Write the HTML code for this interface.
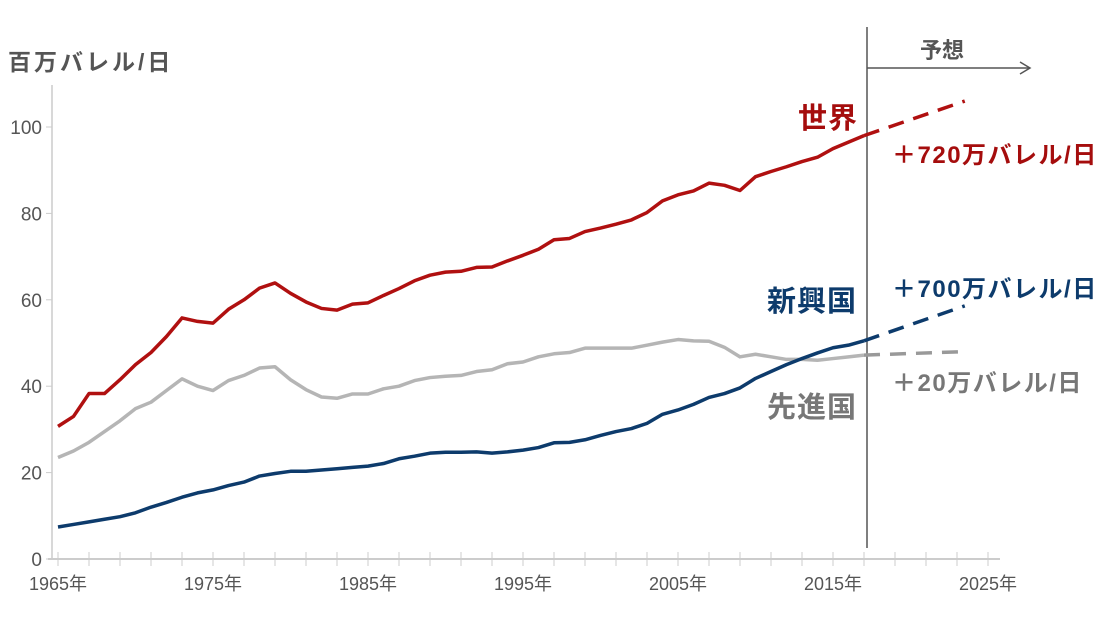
<!DOCTYPE html>
<html><head><meta charset="utf-8"><style>
body{margin:0;background:#fff;}
svg text{font-family:"Liberation Sans","Noto Sans CJK JP",sans-serif;}
</style></head><body>
<svg id="s" width="1107" height="628" xmlns="http://www.w3.org/2000/svg">
<text x="8" y="70" font-size="23" font-weight="bold" fill="#555" letter-spacing="3">百万バレル/日</text>
<line x1="52" y1="85" x2="52" y2="560" stroke="#ccc" stroke-width="1.5"/>
<line x1="48" y1="559" x2="1000" y2="559" stroke="#ccc" stroke-width="2"/>
<g id="yt" font-size="19" fill="#555" text-anchor="end"></g>
<g id="xt"></g>
<line x1="867" y1="27" x2="867" y2="548" stroke="#555" stroke-width="1.5"/>
<line x1="867" y1="68" x2="1030" y2="68" stroke="#555" stroke-width="1.5"/>
<polyline points="1020,62 1030,68 1020,74" fill="none" stroke="#555" stroke-width="1.5"/>
<text x="920" y="58" font-size="22" font-weight="bold" fill="#555">予想</text>
<g id="lines"></g>
<text x="798" y="128" font-size="29" font-weight="bold" fill="#a50d0d" letter-spacing="1">世界</text>
<text x="892" y="163" font-size="24" font-weight="bold" fill="#a50d0d" letter-spacing="1.5">＋720万バレル/日</text>
<text x="767" y="311" font-size="29" font-weight="bold" fill="#0d3b6c" letter-spacing="1">新興国</text>
<text x="892" y="297" font-size="24" font-weight="bold" fill="#0d3b6c" letter-spacing="1.5">＋700万バレル/日</text>
<text x="767" y="417" font-size="29" font-weight="bold" fill="#777" letter-spacing="1">先進国</text>
<text x="892" y="391" font-size="24" font-weight="bold" fill="#777" letter-spacing="1.5">＋20万バレル/日</text>
</svg>
<script>
var NS="http://www.w3.org/2000/svg";
function X(y){return 58+15.5*(y-1965);}function Y(v){return 559-4.32*v;}
function el(p,t,a,txt){var e=document.createElementNS(NS,t);for(var k in a)e.setAttribute(k,a[k]);if(txt)e.textContent=txt;document.getElementById(p).appendChild(e);return e;}
[0,20,40,60,80,100].forEach(function(v){el("yt","text",{x:42,y:Y(v)+7},String(v));el("yt","line",{x1:46,y1:Y(v),x2:52,y2:Y(v),stroke:"#ccc"});});
for(var y=1965;y<=2025;y+=2){el("xt","line",{x1:X(y),y1:552,x2:X(y),y2:566,stroke:"#ccc","stroke-width":1});}
for(var y=1965;y<=2025;y+=10){el("xt","text",{x:X(y),y:590,"font-size":18,fill:"#555","text-anchor":"middle"},y+"年");}
var W=[30.7,33,38.3,38.3,41.5,45,47.8,51.5,55.8,55,54.6,57.8,60,62.7,63.9,61.5,59.5,58,57.6,59,59.3,61,62.6,64.4,65.7,66.4,66.6,67.5,67.6,69,70.3,71.7,73.9,74.2,75.8,76.6,77.5,78.5,80.2,82.9,84.3,85.2,87,86.5,85.3,88.5,89.7,90.8,92,93,95,96.5,98];
var D=[23.5,25,27,29.5,32,34.8,36.3,39,41.7,40,39,41.3,42.5,44.2,44.5,41.5,39.2,37.5,37.2,38.2,38.2,39.4,40,41.3,42,42.3,42.5,43.4,43.8,45.2,45.6,46.8,47.5,47.8,48.8,48.8,48.8,48.8,49.5,50.2,50.8,50.5,50.4,49,46.8,47.4,46.8,46.2,46.2,46,46.4,46.8,47.2];
var E=[7.4,8,8.6,9.2,9.8,10.7,12,13.1,14.3,15.3,16,17,17.8,19.2,19.8,20.3,20.3,20.6,20.9,21.2,21.5,22.1,23.2,23.8,24.5,24.7,24.7,24.8,24.5,24.8,25.2,25.8,26.9,27,27.6,28.6,29.5,30.2,31.4,33.5,34.5,35.8,37.4,38.3,39.6,41.8,43.4,45,46.4,47.7,48.9,49.5,50.5];
function draw(d,end,c,dc){var p=d.map(function(v,i){return X(1965+i)+","+Y(v)}).join(" ");
el("lines","polyline",{points:p,fill:"none",stroke:c,"stroke-width":3.5,"stroke-linejoin":"round"});
el("lines","line",{x1:X(2017),y1:Y(d[d.length-1]),x2:X(2023.5),y2:Y(end),stroke:dc,"stroke-width":3.5,"stroke-dasharray":"16,10"});}
draw(D,48,"#b5b5b5","#999");draw(E,58.6,"#0d3b6c","#0d3b6c");draw(W,106,"#b01010","#b01010");
</script>
</body></html>
